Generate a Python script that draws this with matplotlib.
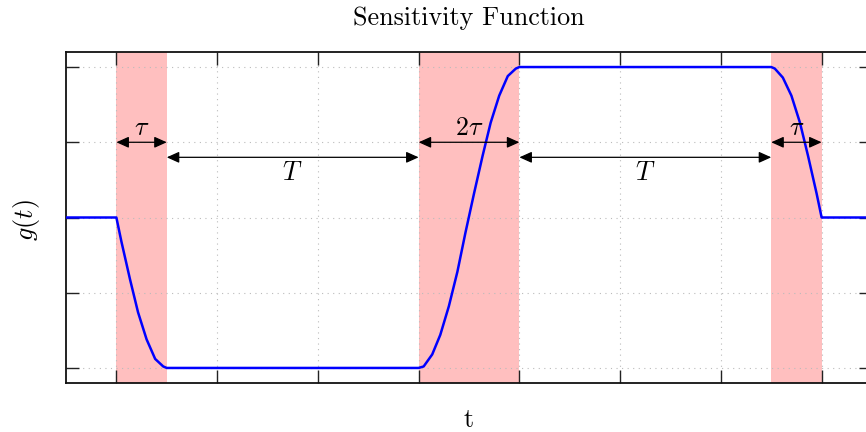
import matplotlib
matplotlib.use("Agg")
import matplotlib.pyplot as plt

plt.rcParams["mathtext.fontset"] = "cm"

# sampled sensitivity function g(t)
t = [-1.0, 0.0, 0.1, 0.27, 0.43, 0.6, 0.77, 0.93, 1.0,
     6.0, 6.1, 6.27, 6.43, 6.6, 6.77, 6.93, 7.1, 7.27, 7.43, 7.6, 7.77, 7.93, 8.0,
     13.0, 13.07, 13.23, 13.4, 13.57, 13.73, 13.9, 14.0, 15.0]
g = [0.0, 0.0, -0.16, -0.41, -0.63, -0.81, -0.94, -0.99, -1.0,
     -1.0, -0.99, -0.91, -0.78, -0.59, -0.36, -0.1, 0.16, 0.41, 0.63, 0.81, 0.94, 0.99, 1.0,
     1.0, 0.99, 0.93, 0.81, 0.63, 0.41, 0.16, 0.0, 0.0]

# pulse intervals (shaded) and their duration labels
pulses = [(0, 1), (6, 8), (13, 14)]
pulse_labels = [r"$\tau$", r"$2\tau$", r"$\tau$"]
# free-evolution intervals
gaps = [(1, 6), (8, 13)]
gap_labels = [r"$T$", r"$T$"]

x_ticks = [0, 2, 4, 6, 8, 10, 12, 14]
y_ticks = [-1.0, -0.5, 0.0, 0.5, 1.0]

W, H = 866, 432
fig = plt.figure(figsize=(W / 100, H / 100), dpi=100)
ax = fig.add_axes([66 / W, 49 / H, 806 / W, 331 / H])
ax.set_xlim(-1, 15)
ax.set_ylim(-1.1, 1.1)

for a, b in pulses:
    ax.axvspan(a, b, color="#ffbfbf", lw=0, zorder=0.5)

ax.plot(t, g, color="blue", lw=1.8, zorder=3, solid_joinstyle="round")

ax.set_xticks(x_ticks)
ax.set_yticks(y_ticks)
ax.tick_params(direction="in", length=9.4, width=1.0, top=True, right=True,
               labelbottom=False, labelleft=False, color="#222222")
ax.grid(True, color="#bbbbbb", linestyle=(0, (1, 4)), lw=0.8)
for s in ax.spines.values():
    s.set_linewidth(1.3)
    s.set_color("#111111")

arrow_kw = dict(arrowstyle="<|-|>,head_length=1.0,head_width=0.45",
                mutation_scale=7.5, lw=0.9, color="black", shrinkA=0, shrinkB=0)
fs = 18.8
for (a, b), lab in zip(pulses, pulse_labels):
    ax.annotate("", xy=(b, 0.5), xytext=(a, 0.5), arrowprops=arrow_kw, zorder=4)
    ax.text((a + b) / 2, 0.55, lab, ha="center", va="baseline", fontsize=fs, zorder=5)
for (a, b), lab in zip(gaps, gap_labels):
    ax.annotate("", xy=(b, 0.4), xytext=(a, 0.4), arrowprops=arrow_kw, zorder=4)
    ax.text((a + b) / 2, 0.252, lab, ha="center", va="baseline", fontsize=fs, zorder=5)

fig.text(469 / W, 1 - 25 / H, "Sensitivity Function", family="cmr10",
         fontsize=fs, ha="center", va="baseline")
fig.text(469 / W, 1 - 427 / H, "t", family="cmr10",
         fontsize=fs, ha="center", va="baseline")
fig.text(26 / W, 1 - 220 / H, r"$g(t)$", fontsize=fs, rotation=90,
         ha="center", va="center")

fig.savefig("out.png", dpi=100)
